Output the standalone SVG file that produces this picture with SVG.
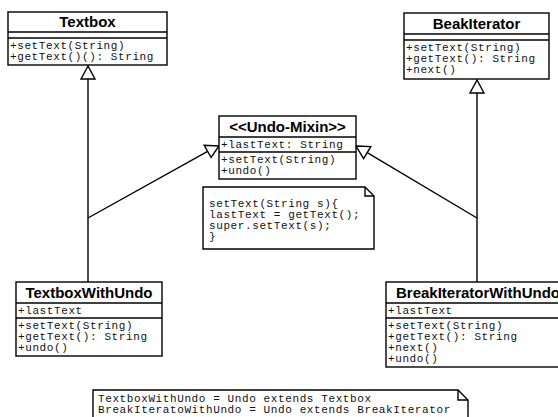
<svg xmlns="http://www.w3.org/2000/svg" width="558" height="417" viewBox="0 0 558 417">
<style>
.box{fill:#fff;stroke:#000;stroke-width:1.4}
.ln{stroke:#000;stroke-width:1.4;fill:none}
.t{font-family:"Liberation Sans",Arial,sans-serif;font-weight:bold;font-size:15px;text-anchor:middle;fill:#000}
.m{font-family:"Liberation Mono","Courier New",monospace;font-size:11px;letter-spacing:0.6px;fill:#111}
.tri{fill:#fff;stroke:#000;stroke-width:1.4}
</style>
<rect width="558" height="417" fill="#fff"/>
<g id="connectors">
<line class="ln" x1="88" y1="282" x2="88" y2="79"/>
<polygon class="tri" points="88,66 81,79 95,79"/>
<line class="ln" x1="477" y1="282" x2="477" y2="93"/>
<polygon class="tri" points="477,80 470,93 484,93"/>
<line class="ln" x1="88" y1="218" x2="207.6" y2="151.4"/>
<polygon class="tri" points="219,146 204.2,145.3 211.1,157.5"/>
<line class="ln" x1="477" y1="218" x2="367.2" y2="152.6"/>
<polygon class="tri" points="356,146 370.8,146.6 363.6,158.6"/>
</g>
<g id="Textbox">
<rect class="box" x="8" y="12" width="159" height="53"/>
<line class="ln" x1="8" y1="32" x2="167" y2="32"/>
<line class="ln" x1="8" y1="38" x2="167" y2="38"/>
<text class="t" x="87.5" y="27">Textbox</text>
<text class="m" x="10" y="49">+setText(String)</text>
<text class="m" x="10" y="60">+getText()(): String</text>
</g>
<g id="BeakIterator">
<rect class="box" x="404" y="13" width="145" height="66"/>
<line class="ln" x1="404" y1="34" x2="549" y2="34"/>
<line class="ln" x1="404" y1="40" x2="549" y2="40"/>
<text class="t" x="476.5" y="29">BeakIterator</text>
<text class="m" x="406" y="51">+setText(String)</text>
<text class="m" x="406" y="62">+getText(): String</text>
<text class="m" x="406" y="73">+next()</text>
</g>
<g id="UndoMixin">
<rect class="box" x="219" y="116" width="137" height="63"/>
<line class="ln" x1="219" y1="137" x2="356" y2="137"/>
<line class="ln" x1="219" y1="152" x2="356" y2="152"/>
<text class="t" x="287.5" y="132">&lt;&lt;Undo-Mixin&gt;&gt;</text>
<text class="m" x="221" y="148">+lastText: String</text>
<text class="m" x="221" y="163">+setText(String)</text>
<text class="m" x="221" y="174">+undo()</text>
</g>
<g id="note1">
<path class="box" d="M203,187 H365 L374,196 V249 H203 Z"/>
<path class="ln" d="M365,187 V196 H374"/>
<text class="m" x="209" y="207">setText(String s){</text>
<text class="m" x="209" y="218">lastText = getText();</text>
<text class="m" x="209" y="229">super.setText(s);</text>
<text class="m" x="209" y="240">}</text>
</g>
<g id="TextboxWithUndo">
<rect class="box" x="16" y="282" width="146" height="74"/>
<line class="ln" x1="16" y1="303" x2="162" y2="303"/>
<line class="ln" x1="16" y1="318" x2="162" y2="318"/>
<text class="t" x="89" y="298">TextboxWithUndo</text>
<text class="m" x="18" y="314">+lastText</text>
<text class="m" x="18" y="329">+setText(String)</text>
<text class="m" x="18" y="340">+getText(): String</text>
<text class="m" x="18" y="351">+undo()</text>
</g>
<g id="BreakIteratorWithUndo">
<rect class="box" x="386" y="282" width="184" height="85"/>
<line class="ln" x1="386" y1="303" x2="570" y2="303"/>
<line class="ln" x1="386" y1="318" x2="570" y2="318"/>
<text class="t" x="478" y="298">BreakIteratorWithUndo</text>
<text class="m" x="388" y="314">+lastText</text>
<text class="m" x="388" y="329">+setText(String)</text>
<text class="m" x="388" y="340">+getText(): String</text>
<text class="m" x="388" y="351">+next()</text>
<text class="m" x="388" y="362">+undo()</text>
</g>
<g id="note2">
<path class="box" d="M93,390 H458 L468,400 V425 H93 Z"/>
<path class="ln" d="M458,390 V400 H468"/>
<text class="m" x="98" y="402">TextboxWithUndo = Undo extends Textbox</text>
<text class="m" x="98" y="413">BreakIteratoWithUndo = Undo extends BreakIterator</text>
</g>
</svg>
